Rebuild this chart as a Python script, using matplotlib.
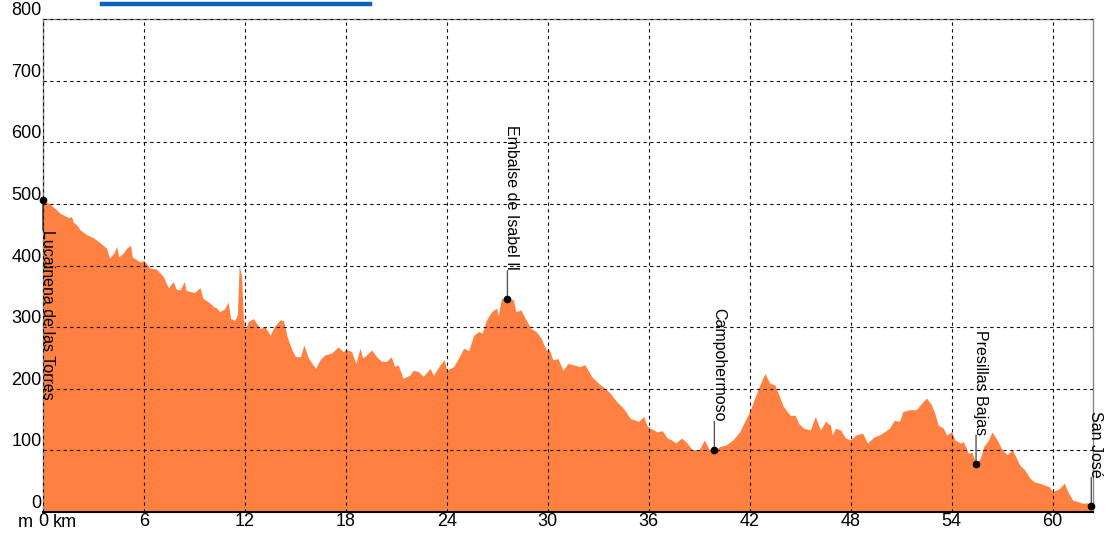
import matplotlib
matplotlib.use("Agg")
import matplotlib.pyplot as plt
from matplotlib.lines import Line2D

# elevation profile (km, m)
dist_km = [0.0, 0.15, 0.4, 0.81, 1.0, 1.21, 1.5, 1.7, 1.8, 2.0, 2.2, 2.6, 3.0, 3.39, 3.78, 3.95,
           4.2, 4.38, 4.5, 4.75, 4.97, 5.2, 5.3, 5.76, 6.0, 6.36, 6.75, 7.15, 7.45, 7.74, 7.9,
           8.14, 8.4, 8.5, 8.73, 9.0, 9.33, 9.5, 9.92, 10.15, 10.32, 10.5, 10.8, 11.0, 11.15,
           11.4, 11.55, 11.66, 11.8, 11.9, 12.0, 12.2, 12.5, 12.9, 13.2, 13.5, 13.75, 14.1,
           14.3, 14.5, 14.8, 15.0, 15.3, 15.5, 15.77, 16.2, 16.46, 16.76, 17.15, 17.55, 17.84,
           18.0, 18.34, 18.6, 18.84, 19.0, 19.23, 19.53, 19.83, 20.1, 20.4, 20.7, 20.9, 21.1,
           21.4, 21.8, 22.0, 22.3, 22.6, 23.0, 23.2, 23.6, 23.85, 24.0, 24.4, 24.7, 25.0, 25.3,
           25.6, 25.9, 26.1, 26.36, 26.66, 26.96, 27.05, 27.25, 27.6, 27.95, 28.1, 28.4, 28.7,
           29.0, 29.3, 29.6, 29.9, 30.1, 30.3, 30.6, 30.9, 31.2, 31.5, 31.9, 32.2, 32.6, 33.0,
           33.3, 33.7, 34.1, 34.5, 34.9, 35.4, 35.7, 35.9, 36.1, 36.5, 36.8, 37.1, 37.35, 37.6,
           37.95, 38.2, 38.6, 39.0, 39.3, 39.6, 39.9, 40.2, 40.6, 41.0, 41.4, 41.7, 42.0, 42.3,
           42.6, 42.9, 43.2, 43.5, 43.8, 44.0, 44.4, 44.7, 44.9, 45.2, 45.6, 45.9, 46.2, 46.5,
           46.8, 46.9, 47.1, 47.4, 47.7, 48.0, 48.3, 48.7, 49.0, 49.4, 49.7, 50.0, 50.3, 50.6,
           50.9, 51.1, 51.5, 51.9, 52.2, 52.5, 52.8, 53.0, 53.2, 53.5, 53.7, 54.0, 54.2, 54.5,
           54.7, 55.0, 55.2, 55.45, 55.7, 55.9, 56.2, 56.4, 56.7, 57.0, 57.3, 57.6, 57.8, 58.05,
           58.35, 58.65, 58.9, 59.2, 59.5, 59.8, 60.0, 60.4, 60.7, 60.9, 61.2, 61.5, 61.8, 62.1,
           62.3, 62.4]
elev_m = [506, 504, 500, 490, 485, 482, 478, 479, 470, 466, 458, 450, 445, 437, 428, 412,
          420, 431, 414, 420, 428, 433, 414, 406, 408, 396, 394, 382, 364, 374, 362,
          360, 374, 360, 358, 356, 364, 347, 339, 333, 331, 325, 330, 341, 314,
          311, 320, 401, 382, 317, 295, 309, 314, 298, 300, 287, 301, 312,
          310, 285, 263, 252, 252, 271, 250, 233, 247, 255, 258, 268, 260,
          264, 260, 241, 266, 250, 255, 263, 252, 245, 244, 252, 236, 239,
          217, 222, 230, 228, 220, 233, 222, 239, 247, 230, 236, 250, 266, 262,
          287, 293, 290, 312, 325, 331, 318, 347, 345, 345, 325, 328, 312,
          298, 293, 282, 263, 263, 247, 249, 230, 241, 239, 236, 239, 220, 209,
          203, 193, 179, 168, 152, 147, 155, 140, 136, 130, 132, 120, 117, 112,
          120, 114, 101, 101, 117, 101, 100, 106, 109, 117, 130, 147, 163, 185,
          206, 225, 209, 206, 185, 171, 157, 157, 144, 136, 133, 155, 133, 147,
          141, 125, 136, 133, 120, 117, 125, 128, 112, 122, 125, 130, 136, 149,
          147, 163, 166, 166, 176, 185, 174, 160, 141, 136, 125, 130, 117, 112,
          114, 95, 97, 78, 87, 106, 117, 130, 117, 101, 93, 101, 90, 76,
          68, 55, 49, 47, 44, 41, 33, 38, 47, 33, 19, 17, 14, 15,
          9, 8]

# waypoints
place_names = ["Lucainena de las Torres", "Embalse de Isabel II", "Campohermoso",
               "Presillas Bajas", "San José"]
place_km = [0.0, 27.6, 39.9, 55.45, 62.3]
place_elev = [506, 345, 100, 78, 9]

x_ticks = [0, 6, 12, 18, 24, 30, 36, 42, 48, 54, 60]
y_ticks = [0, 100, 200, 300, 400, 500, 600, 700, 800]

plt.rcParams['font.family'] = ['Liberation Sans', 'DejaVu Sans']

fig = plt.figure(figsize=(11.07, 5.35), dpi=100)
ax = fig.add_axes([43 / 1107, 1 - 512 / 535, 1050 / 1107, 493 / 535])

ax.fill_between(dist_km, elev_m, 0, color='#FF8040', linewidth=0, zorder=1)

ax.set_xlim(0, 62.4)
ax.set_ylim(0, 800)
ax.set_xticks(x_ticks)
ax.set_xticklabels([str(t) for t in x_ticks], fontsize=13)
ax.set_yticks(y_ticks)
ax.set_yticklabels([str(t) for t in y_ticks], fontsize=13, va='bottom')
ax.tick_params(length=0, pad=1)
ax.set_axisbelow(False)
ax.grid(True, linestyle=(0, (3, 3)), color='#111111', linewidth=0.8, zorder=2)

for side in ['left', 'top', 'right']:
    ax.spines[side].set_color('#888888')
    ax.spines[side].set_linewidth(1.0)
ax.spines['bottom'].set_color('black')
ax.spines['bottom'].set_linewidth(1.5)

# units around the zero label
xt = ax.get_xaxis_transform()
ax.text(-0.6, -0.004, "m", transform=xt, ha='right', va='top', fontsize=13)
ax.text(0.6, -0.004, "km", transform=xt, ha='left', va='top', fontsize=13)

# waypoint markers and labels
for name, km, el in zip(place_names, place_km, place_elev):
    if name == "Lucainena de las Torres":
        dy = -30
        va = 'top'
        lc = '#222222'
    else:
        dy = 29
        va = 'bottom'
        lc = '#555555'
    ax.annotate(name, xy=(km, el), xytext=(-3, dy), textcoords='offset pixels',
                rotation=270, ha='left', va=va, fontsize=11.5, zorder=5,
                annotation_clip=False)
    ax.annotate("", xy=(km, el), xytext=(0, dy), textcoords='offset pixels',
                arrowprops=dict(arrowstyle='-', color=lc, lw=1.0,
                                shrinkA=0, shrinkB=0), zorder=4,
                annotation_clip=False)
    ax.plot(km, el, 'o', color='black', markersize=4.5, zorder=6, clip_on=False)

# remains of the page header above the chart
fig.add_artist(Line2D([102 / 1107, 370 / 1107], [1 - 3.5 / 535, 1 - 3.5 / 535],
                      color='#0A5FC2', linewidth=3.2))

fig.savefig("out.png", dpi=100)
